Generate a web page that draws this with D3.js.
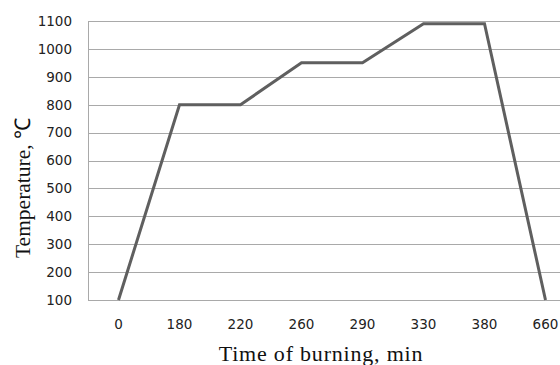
<!DOCTYPE html>
<html>
<head>
<meta charset="utf-8">
<script src="https://cdn.jsdelivr.net/npm/d3@7"></script>
<style>
  html, body { margin: 0; padding: 0; background: #fff; }
  svg { display: block; }
</style>
</head>
<body>
<svg id="chart" width="560" height="365"></svg>
<script>
// Heating schedule: time steps (min) and furnace temperature (°C)
const times = ["0", "180", "220", "260", "290", "330", "380", "660"];
const temperatures = [100, 800, 800, 950, 950, 1090, 1090, 100];
const yTicks = [100, 200, 300, 400, 500, 600, 700, 800, 900, 1000, 1100];

const svg = d3.select("#chart");
const plot = { left: 88, top: 21, width: 488, height: 279 };
const tickFont = "DejaVu Sans, Verdana, sans-serif";
const titleFont = "Liberation Serif, Times New Roman, serif";

const x = d3.scaleBand()
  .domain(times)
  .range([plot.left, plot.left + plot.width]);

const y = d3.scaleLinear()
  .domain([100, 1100])
  .range([plot.top + plot.height, plot.top]);

// Horizontal gridlines
svg.append("g")
  .selectAll("line")
  .data(yTicks)
  .join("line")
  .attr("x1", plot.left)
  .attr("x2", plot.left + plot.width)
  .attr("y1", d => Math.round(y(d)) + 0.5)
  .attr("y2", d => Math.round(y(d)) + 0.5)
  .attr("stroke", "#a9a9a9")
  .attr("stroke-width", 1);

// Vertical axis line
svg.append("line")
  .attr("x1", plot.left + 0.5)
  .attr("x2", plot.left + 0.5)
  .attr("y1", Math.round(y(1100)) + 0.5)
  .attr("y2", Math.round(y(100)) + 0.5)
  .attr("stroke", "#a9a9a9");

// Y tick labels
const yAxis = d3.axisLeft(y).tickValues(yTicks).tickFormat(d3.format("d"))
  .tickSize(0).tickPadding(16);
const gy = svg.append("g")
  .attr("transform", `translate(${plot.left},0)`)
  .call(yAxis);
gy.select(".domain").remove();
gy.selectAll("text")
  .attr("font-family", tickFont)
  .attr("font-size", 13.5)
  .attr("fill", "#222");

// X tick labels
const xAxis = d3.axisBottom(x).tickSize(0).tickPadding(19);
const gx = svg.append("g")
  .attr("transform", `translate(0,${plot.top + plot.height})`)
  .call(xAxis);
gx.select(".domain").remove();
gx.selectAll("text")
  .attr("font-family", tickFont)
  .attr("font-size", 13.5)
  .attr("fill", "#222");

// Temperature curve
const line = d3.line()
  .x((d, i) => x(times[i]) + x.bandwidth() / 2)
  .y(d => y(d));

svg.append("path")
  .datum(temperatures)
  .attr("d", line)
  .attr("fill", "none")
  .attr("stroke", "#5f5f5f")
  .attr("stroke-width", 3)
  .attr("stroke-linejoin", "miter");

// Axis titles
svg.append("text")
  .attr("x", 321)
  .attr("y", 361)
  .attr("text-anchor", "middle")
  .attr("font-family", titleFont)
  .attr("font-size", 22)
  .attr("letter-spacing", 0.8)
  .attr("fill", "#111")
  .text("Time of burning, min");

svg.append("text")
  .attr("transform", "translate(30,188) rotate(-90)")
  .attr("text-anchor", "middle")
  .attr("font-family", titleFont)
  .attr("font-size", 21.5)
  .attr("fill", "#111")
  .text("Temperature, \u2103");
</script>
</body>
</html>
